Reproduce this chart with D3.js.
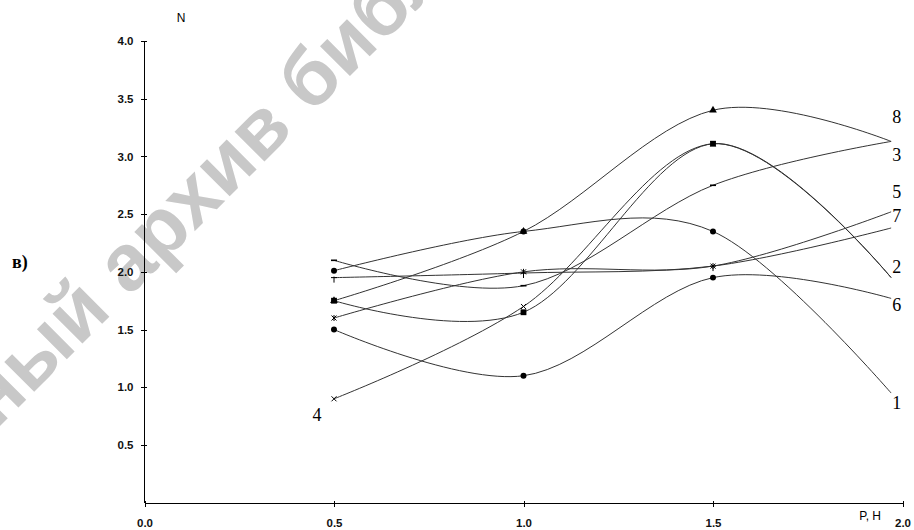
<!DOCTYPE html>
<html>
<head>
  <meta charset="utf-8">
  <title>N(P)</title>
  <style>
    body { margin: 0; background: #fff; }
    .axis path,
    .axis line {
      fill: none;
      stroke: #000;
      shape-rendering: crispEdges;
    }
    .axis text {
      font-family: "Liberation Sans", Arial, sans-serif;
      font-size: 11.5px;
      font-weight: bold;
      fill: #111;
    }
    .curve { fill: none; stroke: #333; stroke-width: 1; }
    .lbl { font-family: "Liberation Serif", "Times New Roman", serif; font-size: 18px; fill: #000; }
    .ttl { font-family: "Liberation Sans", Arial, sans-serif; font-size: 12px; fill: #000; }
    .wm { font-family: "Liberation Sans", Arial, sans-serif; font-size: 80px; font-weight: bold; fill: #c8c8c8; }
  </style>
</head>
<body>
<script src="https://d3js.org/d3.v7.min.js"></script>
<script>
  var width = 914,
      height = 530;

  var padding = {left: 144.5, right: 11.5, top: 41, bottom: 27.3};

  // measured points: P = 0.5, 1.0, 1.5 and the curve end
  var xValues = [0.5, 1.0, 1.5, 1.97];
  var xTicks = [0, 0.5, 1.0, 1.5, 2.0];
  var yTicks = [0.5, 1.0, 1.5, 2.0, 2.5, 3.0, 3.5, 4.0];

  var curve1 = [2.01, 2.35, 2.35, 0.95];
  var curve2 = [1.75, 1.65, 3.11, 1.95];
  var curve3 = [2.10, 1.88, 2.75, 3.13];
  var curve4 = [0.90, 1.70, 3.11, 1.95];
  var curve5 = [1.60, 2.00, 2.05, 2.52];
  var curve6 = [1.50, 1.10, 1.95, 1.77];
  var curve7 = [1.95, 1.99, 2.05, 2.38];
  var curve8 = [1.75, 2.35, 3.40, 3.13];

  var series = [curve8, curve1, curve2, curve3, curve4, curve5, curve6, curve7];
  var markers = ['triangle', 'circle', 'square', 'dash', 'x', 'asterisk', 'circle', 'plus'];

  var labelNames = ['8', '3', '5', '7', '2', '6', '1', '4'];
  var labelX = [1.985, 1.985, 1.985, 1.985, 1.985, 1.985, 1.985, 0.455];
  var labelY = [3.34, 3.01, 2.69, 2.48, 2.04, 1.71, 0.86, 0.76];

  var svg = d3.select('body')
    .append('svg')
    .attr('width', width)
    .attr('height', height);

  var xScale = d3.scaleLinear().domain([0, 2]).range([padding.left, width - padding.right]);
  var yScale = d3.scaleLinear().domain([0, 4]).range([height - padding.bottom, padding.top]);

  // watermark
  var wm = svg.append('g')
    .attr('transform', 'translate(-4,430) rotate(-45)');
  wm.append('text').attr('class', 'wm').attr('text-anchor', 'end').text('Электрон');
  wm.append('text').attr('class', 'wm').attr('text-anchor', 'start').text('ный архив библиотеки');

  // axes
  var xAxis = d3.axisBottom(xScale)
    .tickValues(xTicks)
    .tickFormat(d3.format('.1f'))
    .tickSizeOuter(0)
    .tickSize(4)
    .tickPadding(12);

  var yAxis = d3.axisLeft(yScale)
    .tickValues(yTicks)
    .tickFormat(d3.format('.1f'))
    .tickSizeOuter(0)
    .tickSize(4)
    .tickPadding(7);

  var yAxisG = svg.append('g')
    .attr('class', 'axis')
    .attr('transform', 'translate(' + padding.left + ',0)')
    .call(yAxis);
  yAxisG.select('.domain').attr('d', 'M0,' + yScale(0) + 'V' + yScale(4));
  yAxisG.selectAll('.tick line').attr('x1', 2);

  var xAxisG = svg.append('g')
    .attr('class', 'axis')
    .attr('transform', 'translate(0,' + yScale(0) + ')')
    .call(xAxis);
  xAxisG.selectAll('.tick line').attr('y1', -2);

  svg.append('text').attr('class', 'ttl')
    .attr('x', 181).attr('y', 22).attr('text-anchor', 'middle').text('N');
  svg.append('text').attr('class', 'ttl')
    .attr('x', 881).attr('y', 520).attr('text-anchor', 'end').text('P, H');
  svg.append('text')
    .attr('x', 12).attr('y', 268)
    .style('font-family', '"Liberation Serif", serif')
    .style('font-size', '18px')
    .style('font-weight', 'bold')
    .text('в)');

  // curves (uniform Catmull-Rom through the measured points)
  var line = d3.line()
    .x(function(d, i) { return xScale(xValues[i]); })
    .y(function(d) { return yScale(d); })
    .curve(d3.curveCardinal.tension(0));

  svg.selectAll('.curve')
    .data(series)
    .enter()
    .append('path')
    .attr('class', 'curve')
    .attr('d', line);

  // markers on the measured points
  var symPath = {
    circle: d3.symbol().type(d3.symbolCircle).size(28)(),
    square: d3.symbol().type(d3.symbolSquare).size(34)(),
    triangle: d3.symbol().type(d3.symbolTriangle).size(26)()
  };
  var strokePath = {
    dash: 'M-3,0H3',
    x: 'M-2.5,-2.5L2.5,2.5M-2.5,2.5L2.5,-2.5',
    asterisk: 'M-2.5,-2.5L2.5,2.5M-2.5,2.5L2.5,-2.5M0,-3V3',
    plus: 'M-3,0H3M0,-1V5'
  };

  series.forEach(function(s, k) {
    var m = markers[k];
    svg.selectAll('.m' + k)
      .data(s.slice(0, 3))
      .enter()
      .append('path')
      .attr('class', 'm' + k)
      .attr('transform', function(d, i) {
        return 'translate(' + xScale(xValues[i]) + ',' + yScale(d) + ')';
      })
      .attr('d', symPath[m] || strokePath[m])
      .attr('fill', symPath[m] ? '#000' : 'none')
      .attr('stroke', '#000')
      .attr('stroke-width', m === 'dash' ? 1.6 : (symPath[m] ? 0 : 1));
  });

  // curve numbers
  svg.selectAll('.lbl')
    .data(labelNames)
    .enter()
    .append('text')
    .attr('class', 'lbl')
    .attr('x', function(d, i) { return xScale(labelX[i]); })
    .attr('y', function(d, i) { return yScale(labelY[i]); })
    .attr('text-anchor', 'middle')
    .attr('dominant-baseline', 'central')
    .text(function(d) { return d; });
</script>
</body>
</html>
